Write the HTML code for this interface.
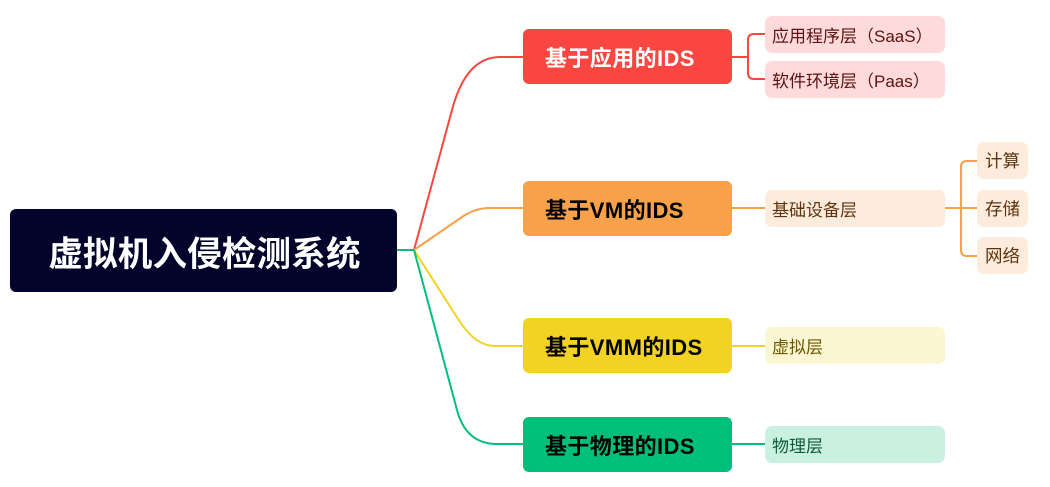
<!DOCTYPE html>
<html><head><meta charset="utf-8">
<style>
html,body{margin:0;padding:0;background:#fff;}
body{width:1050px;height:487px;position:relative;overflow:hidden;font-family:"Liberation Sans","Noto Sans CJK SC",sans-serif;}
.b{position:absolute;box-sizing:border-box;display:flex;align-items:center;white-space:nowrap;}
.root{left:10px;top:209px;width:387px;height:83px;background:#03032b;border-radius:6px;color:#fff;font-weight:700;font-size:34.5px;letter-spacing:0.2px;justify-content:center;padding-left:2px;}
.br{left:523px;width:209px;height:55px;border-radius:6px;font-weight:700;font-size:22px;padding-left:22px;letter-spacing:0.4px;}
.ch{left:765px;width:180px;height:37px;border-radius:7px;font-size:17px;padding-left:7px;}
.sc{left:977px;width:51px;height:37px;border-radius:7px;font-size:17.5px;justify-content:center;background:#fdecdc;color:#5e3410;}
</style></head><body>
<svg width="1050" height="487" style="position:absolute;left:0;top:0" fill="none" stroke-width="2">
<path d="M397,250 L414,250" stroke="#00bf7a"/>
<path d="M414,250 L452,110 Q466,57 500,57 L523,57" stroke="#f94640"/>
<path d="M414,250 L462,217 Q475,208 490,208 L523,208" stroke="#f7a14a"/>
<path d="M414,250 L460,322 Q476,346 495,346 L523,346" stroke="#f2d323"/>
<path d="M414,250 L457,410 Q466,444 497,444 L523,444" stroke="#00bf7a"/>
<path d="M732,57 L748,57 M765,34 L754,34 Q748,34 748,40 L748,73 Q748,79 754,79 L765,79" stroke="#f94640"/>
<path d="M732,208 L765,208" stroke="#f7a14a"/>
<path d="M945,208 L977,208 M977,161 L967,161 Q961,161 961,167 L961,250 Q961,256 967,256 L977,256" stroke="#f7a14a"/>
<path d="M732,346 L765,346" stroke="#f2d323"/>
<path d="M732,444 L765,444" stroke="#00bf7a"/>
</svg>
<div class="b root">虚拟机入侵检测系统</div>

<div class="b br" style="top:29px;background:#f94640;color:#fff;">基于应用的IDS</div>
<div class="b ch" style="top:16px;background:#ffdada;color:#5c1212;">应用程序层（SaaS）</div>
<div class="b ch" style="top:61px;background:#ffdada;color:#5c1212;">软件环境层（Paas）</div>

<div class="b br" style="top:181px;background:#f7a14a;color:#000;">基于VM的IDS</div>
<div class="b ch" style="top:190px;background:#fdecdc;color:#5e3410;">基础设备层</div>
<div class="b sc" style="top:142px;">计算</div>
<div class="b sc" style="top:190px;">存储</div>
<div class="b sc" style="top:237px;">网络</div>

<div class="b br" style="top:318px;background:#f2d323;color:#000;">基于VMM的IDS</div>
<div class="b ch" style="top:327px;background:#fdf6d3;color:#6b5a00;">虚拟层</div>

<div class="b br" style="top:417px;background:#00bf7a;color:#000;">基于物理的IDS</div>
<div class="b ch" style="top:426px;background:#c9f0e1;color:#0d5a3d;">物理层</div>
</body></html>
